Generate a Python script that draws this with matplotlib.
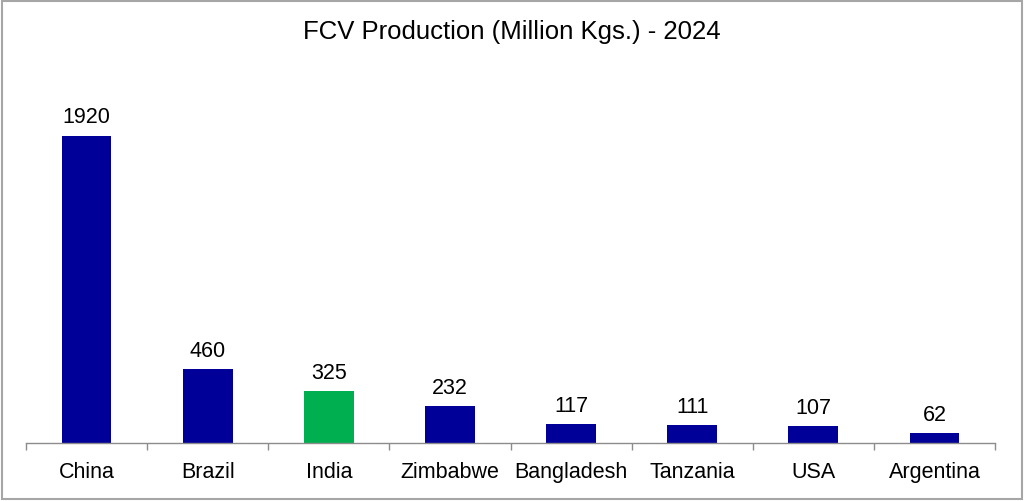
import matplotlib
matplotlib.use("Agg")
import matplotlib.pyplot as plt
from matplotlib.patches import Rectangle
import numpy as np

countries = ["China", "Brazil", "India", "Zimbabwe", "Bangladesh", "Tanzania", "USA", "Argentina"]
production = [1920, 460, 325, 232, 117, 111, 107, 62]
highlight = "India"
title = "FCV Production (Million Kgs.) - 2024"

plt.rcParams['font.family'] = ['Liberation Sans', 'DejaVu Sans']

fig = plt.figure(figsize=(10.24, 5.02), dpi=100)
ax = fig.add_axes([26/1024, 1 - 444/502, (995 - 26)/1024, (444 - 60)/502])

x = np.arange(len(countries))
colors = ["#00B050" if c == highlight else "#000099" for c in countries]
bars = ax.bar(x, production, width=0.41, color=colors)

for xi, v in zip(x, production):
    ax.annotate(str(v), (xi, v), xytext=(0, 6), textcoords="offset points",
                ha="center", va="bottom", fontsize=15.5, color="#000000")

ax.set_xlim(-0.5, len(countries) - 0.5)
ax.set_ylim(0, 2400)
ax.set_xticks(x)
ax.set_xticklabels(countries, fontsize=15.5)
ax.set_xticks(np.arange(-0.5, len(countries)), minor=True)
ax.tick_params(axis="x", which="major", length=0, pad=13)
ax.tick_params(axis="x", which="minor", length=5, width=1, color="#8c8c8c", direction="out")
ax.set_yticks([])
for s in ["top", "right", "left"]:
    ax.spines[s].set_visible(False)
ax.spines["bottom"].set_color("#8c8c8c")
ax.spines["bottom"].set_linewidth(1)

fig.text(0.5, 1 - 32/502, title, ha="center", va="center", fontsize=18.5, color="#000000")

fig.patches.append(Rectangle((2/1024, 2/502), 1 - 4/1024, 1 - 4/502, transform=fig.transFigure,
                             fill=False, edgecolor="#a6a6a6", linewidth=1.5))

fig.savefig("out.png", dpi=100)
